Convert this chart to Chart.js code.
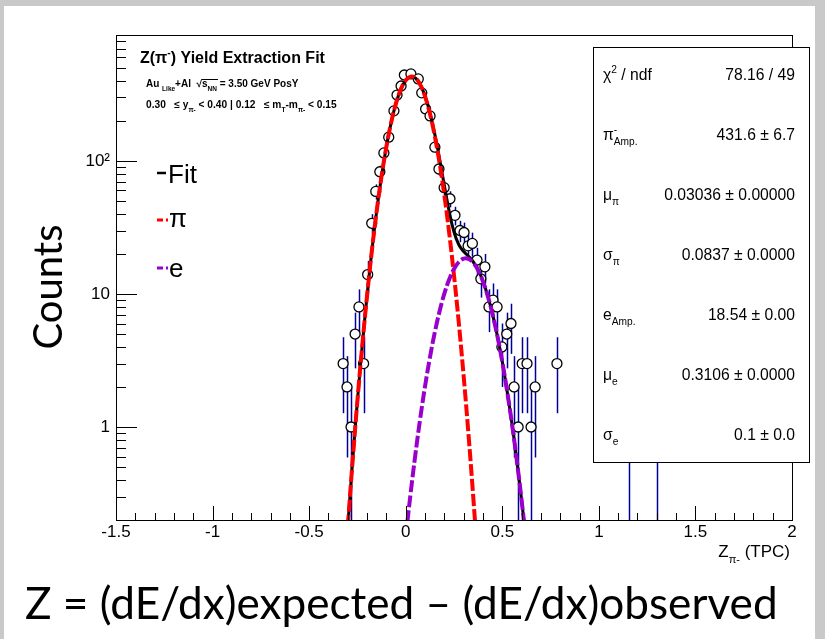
<!DOCTYPE html>
<html lang="en">
<head>
<meta charset="UTF-8">
<title>Z(pi-) Yield Extraction Fit</title>
<script src="https://cdn.jsdelivr.net/npm/chart.js@4.4.0"></script>
<style>
  body { margin: 0; background: #fff; }
  #wrap { width: 825px; height: 639px; position: relative; }
</style>
</head>
<body>
<div id="wrap"><canvas id="c"></canvas></div>
<script>
// histogram bins: Z_pi bin centre, counts, stat. error
const binZ = [-0.324, -0.304, -0.283, -0.262, -0.242, -0.218, -0.197, -0.176, -0.155, -0.134,
              -0.113, -0.088, -0.061, -0.045, -0.024, -0.007, 0.027, 0.065, 0.083, 0.103,
              0.126, 0.151, 0.172, 0.199, 0.229, 0.255, 0.281, 0.302, 0.323, 0.345,
              0.369, 0.389, 0.410, 0.431, 0.452, 0.473, 0.498, 0.523, 0.545, 0.561,
              0.582, 0.603, 0.628, 0.649, 0.670, 0.783, 1.155, 1.300];
const binCounts = [3, 2, 1, 5, 8, 3, 14, 34, 59, 83,
                   115, 151, 238, 313, 366, 443, 451, 414, 325, 246,
                   218, 127, 87, 63, 52, 39, 30, 29, 23, 24,
                   18, 13, 16, 8, 9, 8, 4, 5, 6, 2,
                   1, 3, 3, 1, 2, 3, 1, 1];
const binErr = [1.73, 1.41, 1, 2.24, 2.83, 1.73, 3.74, 5.83, 7.68, 9.11,
                10.7, 12.3, 15.4, 17.7, 19.1, 21.0, 21.2, 20.3, 18.0, 15.7,
                14.8, 11.3, 9.33, 7.94, 7.21, 6.24, 5.48, 5.39, 4.80, 4.90,
                4.24, 3.61, 4.0, 2.83, 3.0, 2.83, 2.0, 2.24, 2.45, 1.41,
                1, 1.73, 1.73, 1, 1.41, 1.73, 1, 1];

// fit curves (pion, electron, total)
const piFitZ = [-0.300, -0.275, -0.250, -0.225, -0.200, -0.175, -0.150, -0.125, -0.100, -0.075,
                -0.050, -0.025, 0.000, 0.025, 0.050, 0.075, 0.100, 0.125, 0.150, 0.175,
                0.200, 0.225, 0.250, 0.275, 0.300, 0.325, 0.350, 0.375];
const piFitVals = [0.178, 0.555, 1.58, 4.10, 9.77, 21.3, 42.3, 77.0, 128.2, 195.3,
                   272.1, 346.7, 404.1, 430.7, 419.9, 374.5, 305.4, 227.9, 155.5, 97.1,
                   55.4, 28.9, 13.8, 6.04, 2.41, 0.881, 0.294, 0.090];
const eFitZ = [0.000, 0.025, 0.050, 0.075, 0.100, 0.125, 0.150, 0.175, 0.200, 0.225,
               0.250, 0.275, 0.300, 0.325, 0.350, 0.375, 0.400, 0.425, 0.450, 0.475,
               0.500, 0.525, 0.550, 0.575, 0.600, 0.625];
const eFitVals = [0.149, 0.314, 0.621, 1.156, 2.02, 3.31, 5.10, 7.39, 10.06, 12.85,
                  15.43, 17.40, 18.44, 18.35, 17.15, 15.07, 12.43, 9.64, 7.02, 4.80,
                  3.09, 1.86, 1.06, 0.563, 0.282, 0.132];
const totFitZ = [-0.300, -0.275, -0.250, -0.225, -0.200, -0.175, -0.150, -0.125, -0.100, -0.075,
                 -0.050, -0.025, 0.000, 0.025, 0.050, 0.075, 0.100, 0.125, 0.150, 0.175,
                 0.200, 0.225, 0.250, 0.275, 0.300, 0.325, 0.350, 0.375, 0.400, 0.425,
                 0.450, 0.475, 0.500, 0.525, 0.550, 0.575, 0.600, 0.625];
const totFitVals = [0.178, 0.555, 1.58, 4.10, 9.77, 21.3, 42.3, 77.0, 128.2, 195.3,
                    272.1, 346.8, 404.3, 431.0, 420.5, 375.7, 307.4, 231.2, 160.6, 104.5,
                    65.5, 41.8, 29.25, 23.44, 20.85, 19.23, 17.44, 15.16, 12.45, 9.64,
                    7.02, 4.80, 3.09, 1.86, 1.06, 0.563, 0.282, 0.132];

const xTickValues = [-1.5, -1, -0.5, 0, 0.5, 1, 1.5, 2];
const xTickLabels = ['-1.5', '-1', '-0.5', '0', '0.5', '1', '1.5', '2'];
const yTickValues = [1, 10, 100];
const yTickLabels = ['1', '10', '10\u00b2'];

// stats box: rich label parts + value
const statLabels = [
  [['\u03c7', 'n'], ['2', 'sup'], [' / ndf', 'n']],
  [['\u03c0', 'n'], ['-', 'sup', true], ['Amp.', 'sub']],
  [['\u03bc', 'n'], ['\u03c0', 'sub']],
  [['\u03c3', 'n'], ['\u03c0', 'sub']],
  [['e', 'n'], ['Amp.', 'sub']],
  [['\u03bc', 'n'], ['e', 'sub']],
  [['\u03c3', 'n'], ['e', 'sub']]
];
const statValues = ['78.16 / 49', '431.6 \u00b1 6.7', '0.03036 \u00b1 0.00000', '0.0837 \u00b1 0.0000',
                    '18.54 \u00b1 0.00', '0.3106 \u00b1 0.0000', '0.1 \u00b1 0.0'];

const titleParts = [['Z(\u03c0', 'n'], ['-', 'sup'], [') Yield Extraction Fit', 'n']];
const infoLine1 = [['Au ', 'n'], ['Like', 'sub'], ['+Al  ', 'n'], ['\u221a', 'n'], ['s', 'n'], ['NN', 'sub'], [' = 3.50 GeV PosY', 'n']];
const infoLine2 = [['0.30   \u2264 y', 'n'], ['\u03c0-', 'sub'], [' < 0.40 | 0.12   \u2264 m', 'n'], ['T', 'sub'], ['-m', 'n'], ['\u03c0-', 'sub'], [' < 0.15', 'n']];
const xTitleParts = [['Z', 'n'], ['\u03c0-', 'sub'], [' (TPC)', 'n']];
const bottomText = 'Z = (dE/dx)expected \u2013 (dE/dx)observed';

const FONT = '"Liberation Sans", Arial, sans-serif';

function rich(ctx, x, y, parts, size, weight, family, align) {
  const items = parts.map(([t, k, noAdv]) => {
    const s = k === 'n' ? size : size * 0.65;
    ctx.font = `${weight} ${s}px ${family}`;
    return { t, k, s, noAdv, w: ctx.measureText(t).width };
  });
  let total = 0;
  items.forEach(it => { if (!it.noAdv) total += it.w; });
  let cx = align === 'right' ? x - total : x;
  const spans = [];
  ctx.textAlign = 'left';
  ctx.textBaseline = 'alphabetic';
  items.forEach(it => {
    ctx.font = `${weight} ${it.s}px ${family}`;
    const dy = it.k === 'sub' ? size * 0.35 : it.k === 'sup' ? -size * 0.45 : 0;
    ctx.fillText(it.t, cx, y + dy);
    spans.push([cx, cx + it.w]);
    if (!it.noAdv) cx += it.w;
  });
  return spans;
}

function line(ctx, x1, y1, x2, y2) {
  ctx.beginPath(); ctx.moveTo(x1, y1); ctx.lineTo(x2, y2); ctx.stroke();
}

const decorations = {
  id: 'decorations',
  beforeDraw(chart) {
    const ctx = chart.ctx;
    ctx.save();
    ctx.fillStyle = '#c9c9c9';
    ctx.fillRect(0, 0, chart.width, chart.height);
    ctx.fillStyle = '#ffffff';
    ctx.fillRect(4, 6, 811, chart.height - 6);
    ctx.restore();
  },
  beforeDatasetsDraw(chart) {
    // error bars
    const ctx = chart.ctx, a = chart.chartArea;
    const xs = chart.scales.x, ys = chart.scales.y;
    ctx.save();
    ctx.beginPath(); ctx.rect(a.left, a.top, a.right - a.left, a.bottom - a.top); ctx.clip();
    ctx.strokeStyle = '#000099';
    ctx.lineWidth = 1.5;
    binZ.forEach((z, i) => {
      const px = Math.round(xs.getPixelForValue(z)) + 0.5;
      const hi = ys.getPixelForValue(binCounts[i] + binErr[i]);
      const lo = binCounts[i] - binErr[i] > 0 ? ys.getPixelForValue(binCounts[i] - binErr[i]) : a.bottom;
      line(ctx, px, hi, px, lo);
    });
    ctx.restore();
  },
  afterDatasetsDraw(chart) {
    const ctx = chart.ctx, a = chart.chartArea;
    const xs = chart.scales.x, ys = chart.scales.y;
    ctx.save();
    ctx.fillStyle = '#000';
    ctx.strokeStyle = '#000';
    ctx.lineWidth = 1;

    // frame + inside ticks
    ctx.strokeRect(Math.round(a.left) + 0.5, Math.round(a.top) + 0.5, Math.round(a.right - a.left), Math.round(a.bottom - a.top));
    for (let i = 0; i <= 35; i++) {
      const px = Math.round(xs.getPixelForValue(-1.5 + i * 0.1)) + 0.5;
      line(ctx, px, a.bottom, px, a.bottom - (i % 5 === 0 ? 14 : 7));
    }
    [0.1, 1, 10, 100].forEach(d => {
      for (let m = 1; m <= 9; m++) {
        const v = m * d;
        if (v < ys.min || v > ys.max) continue;
        const py = Math.round(ys.getPixelForValue(v)) + 0.5;
        line(ctx, a.left, py, a.left + (m === 1 ? 21 : 10), py);
      }
    });

    // title and selection text
    rich(ctx, 140, 63, titleParts, 16, 'bold', FONT);
    const sp = rich(ctx, 146, 87, infoLine1, 10, 'bold', FONT);
    ctx.lineWidth = 1;
    line(ctx, sp[3][0] + 5, 79.5, sp[5][1] + 1, 79.5);
    rich(ctx, 146, 108, infoLine2, 10.2, 'bold', FONT);

    // legend
    ctx.lineWidth = 2.5;
    ctx.strokeStyle = '#000';
    line(ctx, 157, 173, 166, 173);
    ctx.lineWidth = 3;
    ctx.strokeStyle = '#ff0000';
    line(ctx, 157, 220, 163, 220); line(ctx, 166, 220, 168, 220);
    ctx.strokeStyle = '#9900cc';
    line(ctx, 157, 268, 163, 268); line(ctx, 166, 268, 168, 268);
    ctx.fillStyle = '#000';
    ctx.font = '26px ' + FONT;
    ctx.textAlign = 'left';
    ctx.fillText('Fit', 168, 183);
    ctx.fillText('\u03c0', 169, 227);
    ctx.fillText('e', 169, 277);

    // stats box
    ctx.fillStyle = '#fff';
    ctx.fillRect(593, 47, 216, 415);
    ctx.strokeStyle = '#000';
    ctx.lineWidth = 1;
    ctx.strokeRect(593.5, 47.5, 216, 415);
    ctx.fillStyle = '#000';
    statLabels.forEach((parts, i) => {
      const y = 80 + 60 * i;
      rich(ctx, 603, y, parts, 15.7, 'normal', FONT);
      rich(ctx, 795, y, [[statValues[i], 'n']], 15.7, 'normal', FONT, 'right');
    });

    // x-axis title
    rich(ctx, 790, 557, xTitleParts, 17, 'normal', FONT, 'right');

    // y-axis title
    ctx.save();
    ctx.font = '40px Lato, sans-serif';
    let fs = 40 * 125 / ctx.measureText('Counts').width;
    ctx.font = fs + 'px Lato, sans-serif';
    ctx.translate(62, 287);
    ctx.rotate(-Math.PI / 2);
    ctx.textAlign = 'center';
    ctx.fillText('Counts', 0, 0);
    ctx.restore();

    // formula under the plot
    ctx.font = '40px Lato, sans-serif';
    fs = 40 * 753 / ctx.measureText(bottomText).width;
    ctx.font = fs + 'px Lato, sans-serif';
    ctx.textAlign = 'left';
    ctx.fillText(bottomText, 25, 619);
    ctx.restore();
  }
};

const pts = (xsArr, ysArr) => xsArr.map((x, i) => ({ x, y: ysArr[i] }));

new Chart(document.getElementById('c'), {
  type: 'line',
  data: {
    datasets: [
      {
        label: 'data', data: pts(binZ, binCounts), showLine: false, order: 4,
        pointRadius: 5, pointBorderWidth: 1.3, pointBorderColor: '#000', pointBackgroundColor: '#fff'
      },
      {
        label: 'Fit', data: pts(totFitZ, totFitVals), order: 3, borderColor: '#000', borderWidth: 3,
        pointRadius: 0, tension: 0.4, clip: 0
      },
      {
        label: '\u03c0', data: pts(piFitZ, piFitVals), order: 2, borderColor: '#ff0000', borderWidth: 4,
        borderDash: [12, 3], pointRadius: 0, tension: 0.4, clip: 0
      },
      {
        label: 'e', data: pts(eFitZ, eFitVals), order: 1, borderColor: '#9900cc', borderWidth: 4,
        borderDash: [12, 3], pointRadius: 0, tension: 0.4, clip: 0
      }
    ]
  },
  options: {
    responsive: true,
    maintainAspectRatio: false,
    devicePixelRatio: 1,
    animation: false,
    events: [],
    layout: { padding: { left: 0, top: 35, right: 33, bottom: 0 } },
    plugins: { legend: { display: false }, tooltip: { enabled: false } },
    scales: {
      x: {
        type: 'linear', min: -1.5, max: 2,
        grid: { display: false, drawTicks: false },
        border: { display: false },
        afterBuildTicks: s => { s.ticks = xTickValues.map(v => ({ value: v })); },
        afterFit: s => { s.height = 119; },
        ticks: {
          color: '#000', font: { family: FONT, size: 17 }, padding: 2, maxRotation: 0, autoSkip: false,
          callback: (v, i) => xTickLabels[i]
        }
      },
      y: {
        type: 'logarithmic', min: 0.2, max: 885,
        grid: { display: false, drawTicks: false },
        border: { display: false },
        afterBuildTicks: s => { s.ticks = yTickValues.map(v => ({ value: v })); },
        afterFit: s => { s.width = 116; },
        ticks: {
          color: '#000', font: { family: FONT, size: 17 }, padding: 6, autoSkip: false,
          callback: (v, i) => yTickLabels[i]
        }
      }
    }
  },
  plugins: [decorations]
});
</script>
</body>
</html>
